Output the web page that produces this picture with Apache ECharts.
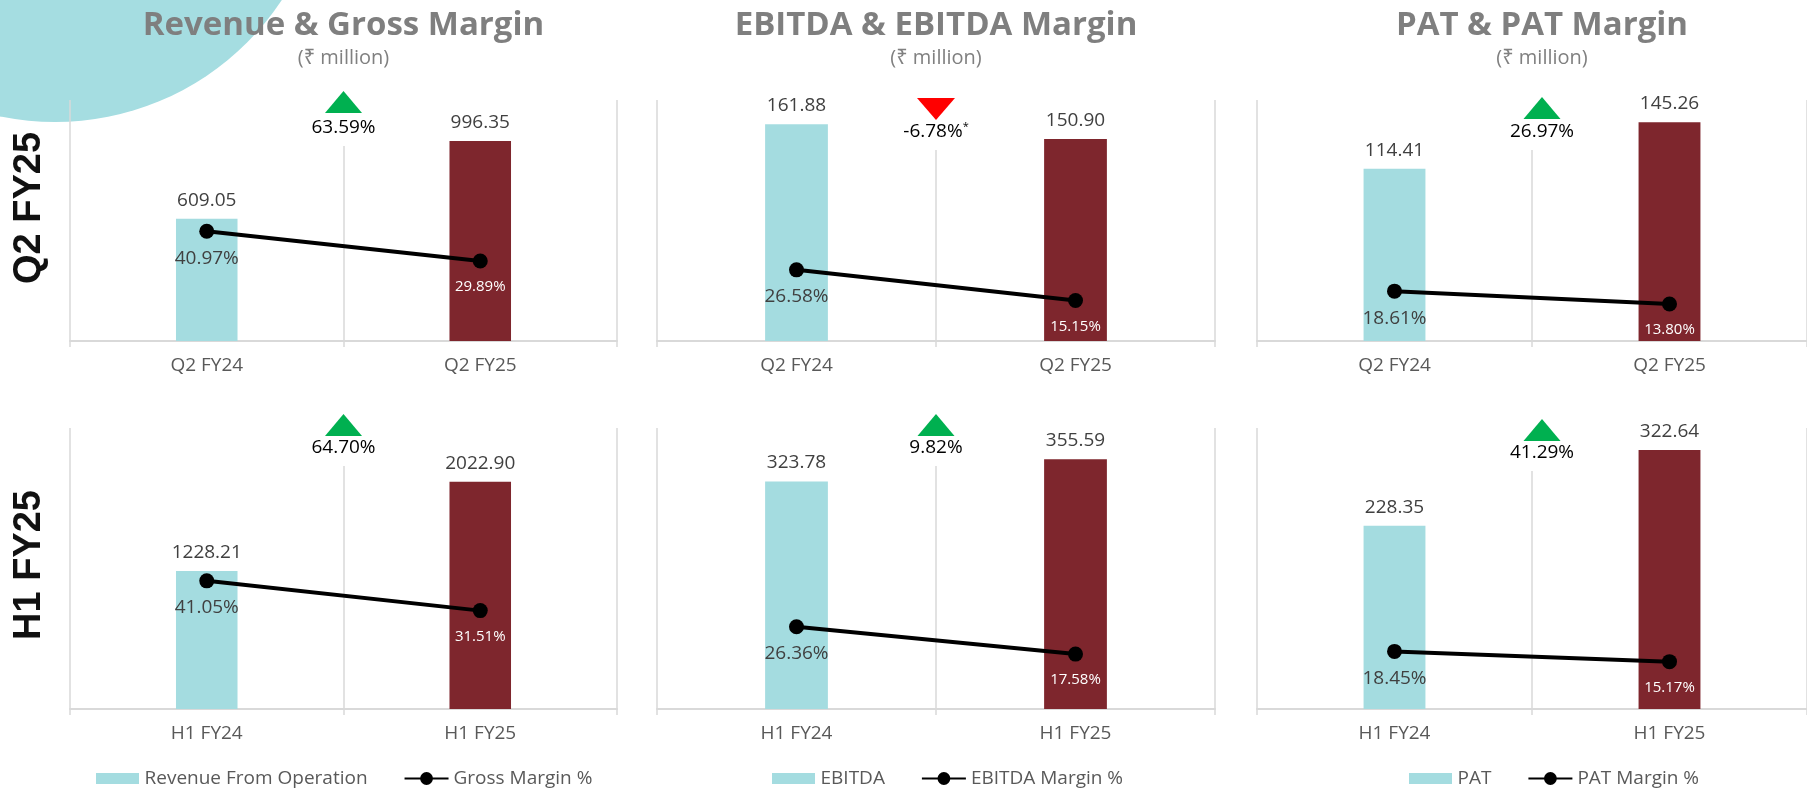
<!DOCTYPE html>
<html><head><meta charset="utf-8">
<script src="https://cdn.jsdelivr.net/npm/echarts@6/dist/echarts.min.js"></script>
<style>html,body{margin:0;padding:0;background:#fff}#c{width:1807px;height:791px}</style>
</head><body><div id="c"></div><script>
// ---- data ----
const categoriesQ2 = ['Q2 FY24', 'Q2 FY25'];
const categoriesH1 = ['H1 FY24', 'H1 FY25'];
const revenueQ2 = [609.05, 996.35];
const grossMarginQ2 = [40.97, 29.89];
const ebitdaQ2 = [161.88, 150.90];
const ebitdaMarginQ2 = [26.58, 15.15];
const patQ2 = [114.41, 145.26];
const patMarginQ2 = [18.61, 13.80];
const revenueH1 = [1228.21, 2022.90];
const grossMarginH1 = [41.05, 31.51];
const ebitdaH1 = [323.78, 355.59];
const ebitdaMarginH1 = [26.36, 17.58];
const patH1 = [228.35, 322.64];
const patMarginH1 = [18.45, 15.17];
const growthQ2 = [63.59, -6.78, 26.97];
const growthH1 = [64.70, 9.82, 41.29];
const growthNoteQ2 = ['', '*', ''];
const growthNoteH1 = ['', '', ''];
const panelTitles = ['Revenue & Gross Margin', 'EBITDA & EBITDA Margin', 'PAT & PAT Margin'];
const panelSubtitle = '(\u20B9 million)';
const barNames = ['Revenue From Operation', 'EBITDA', 'PAT'];
const lineNames = ['Gross Margin %', 'EBITDA Margin %', 'PAT Margin %'];
const rowLabels = ['Q2 FY25', 'H1 FY25'];
const barMaxQ2 = [1200, 180, 160];
const barMaxH1 = [2500, 400, 350];
const marginMax = 90;

// ---- styling / layout ----
const FONT = "'Open Sans', 'Noto Sans', sans-serif";
const TEAL = '#a4dce0';
const MAROON = '#7e262d';
const GRIDC = '#d9d9d9';
const cols = [{left: 70, width: 547}, {left: 657, width: 558}, {left: 1257, width: 570}];
const rows = [{top: 100, height: 241}, {top: 428, height: 281}];
const rowLabelY = [208, 565];
const triTop = [[91, 98, 97], [414, 414, 419]];
const growthTextY = [[128, 132, 132], [448, 448, 453]];
const legendLeft = [91, 767, 1404];

const rowsData = [
  {cats: categoriesQ2, bars: [revenueQ2, ebitdaQ2, patQ2], lines: [grossMarginQ2, ebitdaMarginQ2, patMarginQ2], max: barMaxQ2, growth: growthQ2, note: growthNoteQ2},
  {cats: categoriesH1, bars: [revenueH1, ebitdaH1, patH1], lines: [grossMarginH1, ebitdaMarginH1, patMarginH1], max: barMaxH1, growth: growthH1, note: growthNoteH1}
];

const grid = [], xAxis = [], yAxis = [], series = [], graphic = [];
graphic.push({type: 'circle', shape: {cx: 55, cy: -150, r: 272}, style: {fill: '#a5dde1'}, z: -10, silent: true});

rowsData.forEach((rd, r) => {
  cols.forEach((c, ci) => {
    const g = r * 3 + ci;
    grid.push({left: c.left, top: rows[r].top, width: c.width, height: rows[r].height, containLabel: false});
    xAxis.push({
      type: 'category', gridIndex: g, data: rd.cats, boundaryGap: true,
      axisLine: {show: true, lineStyle: {color: GRIDC, width: 2}},
      axisTick: {show: true, length: 6, lineStyle: {color: GRIDC, width: 1.5}},
      splitLine: {show: true, lineStyle: {color: GRIDC, width: 1.5}},
      axisLabel: {margin: 15, fontFamily: FONT, fontSize: 19, color: '#595959'}
    });
    yAxis.push({type: 'value', gridIndex: g, min: 0, max: rd.max[ci], show: false, splitLine: {show: false}});
    yAxis.push({type: 'value', gridIndex: g, min: 0, max: marginMax, show: false, splitLine: {show: false}});
    series.push({
      type: 'bar', name: barNames[ci], xAxisIndex: g, yAxisIndex: 2 * g,
      barWidth: '22.5%', itemStyle: {color: TEAL},
      data: rd.bars[ci].map((v, k) => ({value: v, itemStyle: {color: k ? MAROON : TEAL}})),
      label: {show: true, position: 'top', distance: 9, fontFamily: FONT, fontSize: 19, color: '#404040',
        formatter: p => p.value.toFixed(2)},
      animation: false
    });
    series.push({
      type: 'line', name: lineNames[ci], xAxisIndex: g, yAxisIndex: 2 * g + 1,
      symbol: 'circle', symbolSize: 15, z: 5,
      lineStyle: {color: '#000', width: 4}, itemStyle: {color: '#000'},
      data: rd.lines[ci].map((v, k) => ({value: v,
        label: k ? {color: '#ffffff', fontSize: 15, distance: 11} : {color: '#404040', fontSize: 19, distance: 10}})),
      label: {show: true, position: 'bottom', fontFamily: FONT, formatter: p => p.value.toFixed(2) + '%'},
      animation: false
    });
    // growth annotation in the middle of the panel
    const cx = c.left + c.width / 2;
    const up = rd.growth[ci] >= 0;
    const t = triTop[r][ci];
    const ty = growthTextY[r][ci];
    graphic.push({type: 'rect', shape: {x: cx - 55, y: rows[r].top - 2, width: 110, height: ty + 20 - rows[r].top}, style: {fill: '#fff'}, z: 50, silent: true});
    graphic.push({type: 'polygon', shape: {points: up ? [[cx - 18.5, t + 22], [cx + 18.5, t + 22], [cx, t]] : [[cx - 19, t], [cx + 19, t], [cx, t + 22]]},
      style: {fill: up ? '#00b050' : '#ff0000'}, z: 60, silent: true});
    graphic.push({type: 'text', x: cx, y: ty, z: 60, silent: true,
      style: {text: '{a|' + rd.growth[ci].toFixed(2) + '%}' + (rd.note[ci] ? '{s|' + rd.note[ci] + '}' : ''),
        align: 'center', verticalAlign: 'middle',
        rich: {a: {fontFamily: FONT, fontSize: 19, fill: '#000'}, s: {fontFamily: FONT, fontSize: 11, fill: '#000', verticalAlign: 'top', padding: [0, 0, 10, 0]}}}});
  });
  // row label
  graphic.push({type: 'text', x: 30, y: rowLabelY[r], rotation: Math.PI / 2, z: 60, silent: true,
    style: {text: rowLabels[r], align: 'center', verticalAlign: 'middle', fontFamily: "'Liberation Sans', Arial, sans-serif", fontWeight: 'bold', fontSize: 38, fill: '#111'}});
});

// panel titles
cols.forEach((c, ci) => {
  const cx = c.left + c.width / 2;
  graphic.push({type: 'text', x: cx, y: 26, z: 60, silent: true,
    style: {text: panelTitles[ci], align: 'center', verticalAlign: 'middle', fontFamily: FONT, fontWeight: 'bold', fontSize: 33, fill: '#7f7f7f'}});
  graphic.push({type: 'text', x: cx, y: 58, z: 60, silent: true,
    style: {text: panelSubtitle, align: 'center', verticalAlign: 'middle', fontFamily: FONT, fontSize: 20, fill: '#808080'}});
});

const barIcon = 'path://M0,0M0,2.5L43,2.5L43,13.5L0,13.5ZM0,16';
const legend = cols.map((c, ci) => ({
  left: legendLeft[ci], top: 764, orient: 'horizontal', itemWidth: 44, itemHeight: 16, itemGap: 36,
  selectedMode: false,
  data: [{name: barNames[ci], icon: barIcon}, {name: lineNames[ci]}],
  textStyle: {fontFamily: FONT, fontSize: 19, color: '#595959'}
}));

const chart = echarts.init(document.getElementById('c'), null, {renderer: 'canvas'});
chart.setOption({animation: false, backgroundColor: '#fff', grid, xAxis, yAxis, series, legend, graphic});
</script></body></html>
